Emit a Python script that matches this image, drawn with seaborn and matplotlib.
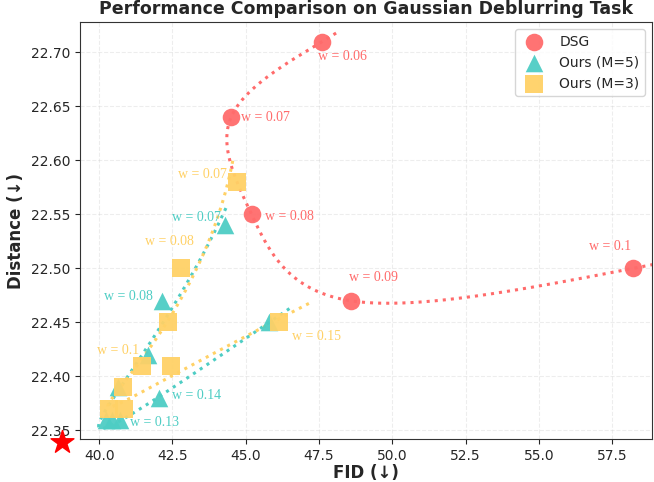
import numpy as np
import pandas as pd
import matplotlib
matplotlib.use("Agg")
import matplotlib.pyplot as plt
import seaborn as sns

# DSG
dsg_w = [0.06, 0.07, 0.08, 0.09, 0.10]
dsg_fid = [47.6, 44.5, 45.2, 48.6, 58.2]
dsg_dist = [22.71, 22.64, 22.55, 22.47, 22.50]

# Ours (M=5)
m5_w = [0.07, 0.08, 0.09, 0.10, 0.11, 0.12, 0.13, 0.14, 0.15]
m5_fid = [44.3, 42.15, 41.65, 40.65, 40.25, 40.45, 40.7, 42.05, 45.8]
m5_dist = [22.54, 22.47, 22.42, 22.39, 22.36, 22.36, 22.36, 22.38, 22.45]

# Ours (M=3)
m3_w = [0.07, 0.08, 0.09, 0.10, 0.11, 0.12, 0.13, 0.14, 0.15]
m3_fid = [44.7, 42.8, 42.35, 41.45, 40.8, 40.35, 40.85, 42.45, 46.15]
m3_dist = [22.58, 22.50, 22.45, 22.41, 22.39, 22.37, 22.37, 22.41, 22.45]

# which points get a "w = ..." label, and where (offset in pixels)
dsg_labels = {0.06: (20, -15), 0.07: (34, 0), 0.08: (38, -2), 0.09: (22, 23), 0.10: (-23, 22)}
m5_labels = {0.07: (-29, 8), 0.08: (-34, 4), 0.13: (35, -3), 0.14: (37, 3)}
m3_labels = {0.07: (-34, 8), 0.08: (-12, 27), 0.10: (-24, 15), 0.15: (37, -14)}

RED = '#FF6B6B'
TEAL = '#4ECDC4'
YELLOW = '#FFD166'


def natural_spline(t, v, tq):
    # natural cubic spline through (t, v), evaluated at tq
    t = np.asarray(t, float)
    v = np.asarray(v, float)
    n = len(t)
    h = np.diff(t)
    A = np.zeros((n, n))
    b = np.zeros(n)
    A[0, 0] = A[-1, -1] = 1
    for i in range(1, n - 1):
        A[i, i - 1] = h[i - 1]
        A[i, i] = 2 * (h[i - 1] + h[i])
        A[i, i + 1] = h[i]
        b[i] = 6 * ((v[i + 1] - v[i]) / h[i] - (v[i] - v[i - 1]) / h[i - 1])
    M = np.linalg.solve(A, b)
    idx = np.clip(np.searchsorted(t, tq) - 1, 0, n - 2)
    t0, t1, hi = t[idx], t[idx + 1], h[idx]
    a = t1 - tq
    c = tq - t0
    return (M[idx] * a ** 3 / (6 * hi) + M[idx + 1] * c ** 3 / (6 * hi)
            + (v[idx] / hi - M[idx] * hi / 6) * a + (v[idx + 1] / hi - M[idx + 1] * hi / 6) * c)


def trend(w, fid, dist, deg, pad):
    # smooth parametric trend in w, a bit past both ends
    t = np.linspace(min(w) - pad, max(w) + pad, 400)
    if deg is None:
        return pd.DataFrame({'fid': natural_spline(w, fid, t),
                             'dist': natural_spline(w, dist, t)})
    return pd.DataFrame({
        'fid': np.polyval(np.polyfit(w, fid, deg), t),
        'dist': np.polyval(np.polyfit(w, dist, deg), t),
    })


def fmt_w(w):
    return f'w = {w:g}'


sns.set_style('ticks')
fig, ax = plt.subplots(figsize=(6.54, 4.82), dpi=100)
fig.subplots_adjust(left=0.122, right=0.997, top=0.954, bottom=0.089)

series = [
    ('DSG', dsg_w, dsg_fid, dsg_dist, RED, 'o', None, 0.0012, dsg_labels),
    ('Ours (M=5)', m5_w, m5_fid, m5_dist, TEAL, '^', 3, 0.003, m5_labels),
    ('Ours (M=3)', m3_w, m3_fid, m3_dist, YELLOW, 's', 3, 0.003, m3_labels),
]

for name, w, fid, dist, color, marker, deg, pad, labels in series:
    curve = trend(w, fid, dist, deg, pad)
    sns.lineplot(data=curve, x='fid', y='dist', sort=False, estimator=None,
                 color=color, linestyle=':', linewidth=2.2, ax=ax, zorder=2)
    pts = pd.DataFrame({'fid': fid, 'dist': dist})
    sns.scatterplot(data=pts, x='fid', y='dist', color=color, marker=marker,
                    s=160, linewidth=0, alpha=0.95, label=name, ax=ax, zorder=3)
    for wi, xi, yi in zip(w, fid, dist):
        if wi in labels:
            ax.annotate(fmt_w(wi), (xi, yi), xytext=labels[wi],
                        textcoords='offset pixels', ha='center', va='center',
                        color=color, fontsize=10, family='Liberation Serif')

# ideal point
ax.scatter([38.73], [22.3395], marker='*', s=300, color='red', clip_on=False, zorder=5)

ax.set_xlim(39.34, 58.86)
ax.set_ylim(22.342, 22.728)
ax.set_xticks(np.arange(40, 58.1, 2.5))
ax.set_yticks(np.arange(22.35, 22.701, 0.05))
ax.xaxis.set_major_formatter(matplotlib.ticker.FormatStrFormatter('%.1f'))
ax.yaxis.set_major_formatter(matplotlib.ticker.FormatStrFormatter('%.2f'))
ax.grid(True, linestyle='--', alpha=0.35)
ax.tick_params(labelsize=10)

ax.set_xlabel('FID (↓)', fontsize=12, fontweight='bold', labelpad=1)
ax.set_ylabel('Distance (↓)', fontsize=12, fontweight='bold')
ax.set_title('Performance Comparison on Gaussian Deblurring Task', fontsize=12.5, fontweight='bold')

ax.legend(loc='upper right', fontsize=10, markerscale=1.0, frameon=True)

for sp in ax.spines.values():
    sp.set_color('#333333')

fig.savefig('out.png', dpi=100)
